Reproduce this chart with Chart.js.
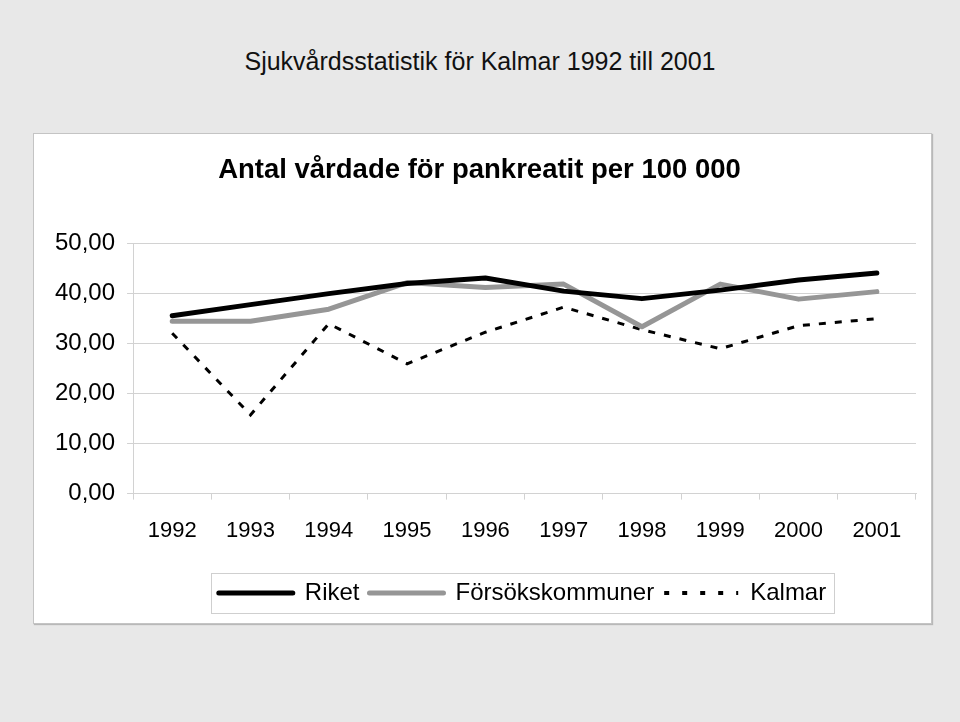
<!DOCTYPE html>
<html>
<head>
<meta charset="utf-8">
<script src="https://cdn.jsdelivr.net/npm/chart.js@4/dist/chart.umd.min.js"></script>
<style>
  html, body { margin: 0; padding: 0; }
  body {
    width: 960px;
    height: 722px;
    background: #e8e8e8;
    position: relative;
    overflow: hidden;
    font-family: "Liberation Sans", Arial, sans-serif;
  }
  #pageTitle {
    position: absolute;
    left: 0;
    width: 960px;
    top: 47px;
    text-align: center;
    font-size: 25px;
    color: #111;
  }
  #box {
    position: absolute;
    left: 33px;
    top: 133px;
    width: 899px;
    height: 491px;
    box-sizing: border-box;
    background: #fff;
    border: 1px solid #c4c4c4;
    box-shadow: 1px 1px 1px #b8b8b8;
  }
  #box canvas { display: block; }
</style>
</head>
<body>
<div id="pageTitle">Sjukvårdsstatistik för Kalmar 1992 till 2001</div>
<div id="box"><canvas id="vardChart" width="897" height="489"></canvas></div>
<script>
const years = ["1992", "1993", "1994", "1995", "1996", "1997", "1998", "1999", "2000", "2001"];
const riket = [35.5, 37.7, 39.9, 41.9, 43.0, 40.4, 38.9, 40.6, 42.6, 44.0];
const forsokskommuner = [34.4, 34.4, 36.8, 42.1, 41.1, 41.8, 33.3, 41.8, 38.8, 40.3];
const kalmar = [32.0, 15.7, 33.9, 25.9, 32.2, 37.2, 32.7, 28.9, 33.5, 34.9];

const FONT = "'Liberation Sans', Arial, sans-serif";
const GRID = "#d2d2d2";
const LEGEND_SHIFT = 43; // the Excel legend sits a bit right of centre

// nudge the legend right and draw the frame round it
const legendFrame = {
  id: "legendFrame",
  afterLayout(chart) {
    const legend = chart.legend;
    if (!legend) return;
    legend.left += LEGEND_SHIFT;
    legend.right += LEGEND_SHIFT;
    legend.legendHitBoxes.forEach((b) => (b.left += LEGEND_SHIFT));
  },
  afterDraw(chart) {
    const boxes = chart.legend && chart.legend.legendHitBoxes;
    if (!boxes || !boxes.length) return;
    const left = Math.min(...boxes.map((b) => b.left)) - 8;
    const right = Math.max(...boxes.map((b) => b.left + b.width)) + 8;
    const top = Math.min(...boxes.map((b) => b.top)) - 8;
    const bottom = Math.max(...boxes.map((b) => b.top + b.height)) + 8;
    const ctx = chart.ctx;
    ctx.save();
    ctx.strokeStyle = "#cfcfcf";
    ctx.lineWidth = 1;
    ctx.strokeRect(Math.round(left) + 0.5, Math.round(top) + 0.5, Math.round(right - left), Math.round(bottom - top));
    ctx.restore();
  },
};

const ctx = document.getElementById("vardChart").getContext("2d");

new Chart(ctx, {
  type: "line",
  data: {
    labels: years,
    datasets: [
      {
        label: "Riket",
        data: riket,
        borderColor: "#000000",
        backgroundColor: "#000000",
        borderWidth: 5,
        borderCapStyle: "round",
        borderJoinStyle: "round",
      },
      {
        label: "Försökskommuner",
        data: forsokskommuner,
        borderColor: "#969696",
        backgroundColor: "#969696",
        borderWidth: 5,
        borderCapStyle: "round",
        borderJoinStyle: "round",
      },
      {
        label: "Kalmar",
        data: kalmar,
        borderColor: "#000000",
        backgroundColor: "#000000",
        borderWidth: 3,
        borderDash: [7, 9],
      },
    ],
  },
  options: {
    responsive: false,
    animation: false,
    devicePixelRatio: 1,
    elements: {
      point: { radius: 0, hoverRadius: 0 },
      line: { tension: 0, fill: false },
    },
    layout: {
      padding: { left: 9, right: 15, top: 0, bottom: 8 },
    },
    plugins: {
      tooltip: { enabled: false },
      title: {
        display: true,
        text: "Antal vårdade för pankreatit per 100 000",
        color: "#000",
        font: { family: FONT, size: 27.5, weight: "bold" },
        padding: { top: 20, bottom: 56 },
      },
      legend: {
        position: "bottom",
        labels: {
          usePointStyle: true,
          pointStyle: "line",
          pointStyleWidth: 74,
          color: "#000",
          font: { family: FONT, size: 24 },
          padding: 10,
          generateLabels: (chart) => {
            const items = Chart.defaults.plugins.legend.labels.generateLabels(chart);
            items.forEach((item) => {
              const ds = chart.data.datasets[item.datasetIndex];
              item.lineDash = ds.borderDash ? [5, 13] : [];
              item.lineCap = ds.borderDash ? "butt" : "round";
              item.lineWidth = ds.borderDash ? 4 : 5;
            });
            return items;
          },
        },
      },
    },
    scales: {
      x: {
        offset: true,
        grid: {
          offset: true,
          drawOnChartArea: false,
          drawTicks: true,
          tickLength: 6,
          color: GRID,
        },
        border: { color: GRID },
        ticks: {
          color: "#000",
          font: { family: FONT, size: 22 },
          padding: 18,
          maxRotation: 0,
        },
        afterFit: (scale) => {
          scale.height += 9;
        },
      },
      y: {
        min: 0,
        max: 50,
        grid: { color: GRID, tickLength: 6 },
        border: { color: GRID },
        ticks: {
          stepSize: 10,
          color: "#000",
          font: { family: FONT, size: 24 },
          padding: 12,
          callback: (value) => value.toFixed(2).replace(".", ","),
        },
      },
    },
  },
  plugins: [legendFrame],
});
</script>
</body>
</html>
